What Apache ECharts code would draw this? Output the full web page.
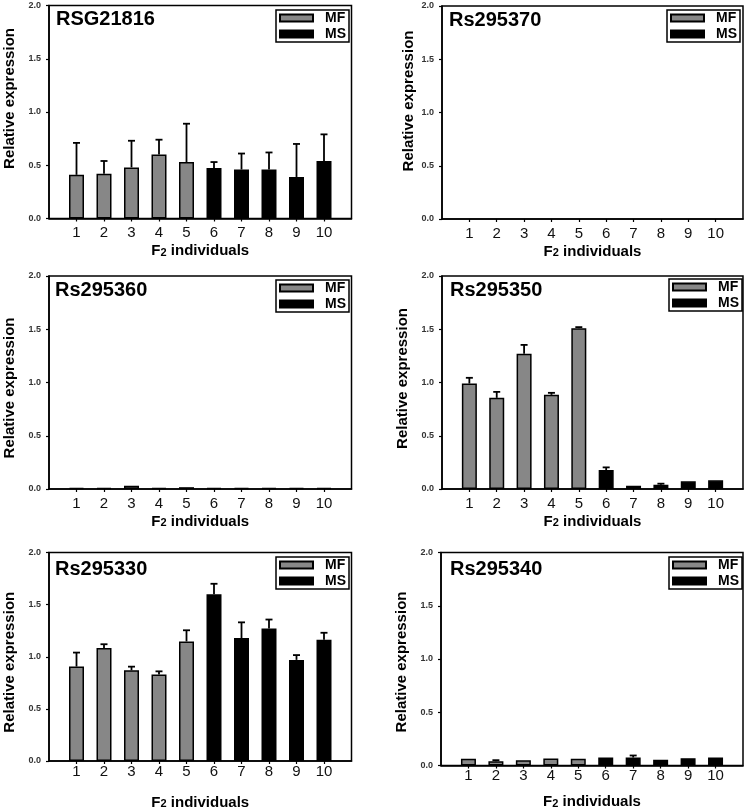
<!DOCTYPE html>
<html>
<head>
<meta charset="utf-8">
<script src="https://cdn.jsdelivr.net/npm/echarts@6/dist/echarts.min.js"></script>
<style>
  html, body { margin: 0; padding: 0; background: #fff; }
  #chart { width: 746px; height: 811px; }
</style>
</head>
<body>
<div id="chart"></div>
<script>
// F2 individuals, 1-5 = MF, 6-10 = MS
var individuals = [1, 2, 3, 4, 5, 6, 7, 8, 9, 10];
var genes = ['RSG21816', 'Rs295370', 'Rs295360', 'Rs295350', 'Rs295330', 'Rs295340'];

// mean relative expression and upper error (SD) per gene
var rsg21816Mean = [0.41, 0.42, 0.48, 0.60, 0.53, 0.475, 0.46, 0.46, 0.39, 0.54];
var rsg21816Sd   = [0.30, 0.12, 0.25, 0.14, 0.36, 0.055, 0.15, 0.16, 0.31, 0.25];
var rs295370Mean = [null, null, null, null, null, null, null, null, null, null];
var rs295370Sd   = [null, null, null, null, null, null, null, null, null, null];
var rs295360Mean = [0.005, 0.008, 0.03, 0.007, 0.017, 0.004, 0.007, 0.007, 0.007, 0.008];
var rs295360Sd   = [0, 0.001, 0.006, 0, 0.003, 0, 0, 0, 0, 0];
var rs295350Mean = [0.99, 0.856, 1.27, 0.884, 1.51, 0.178, 0.031, 0.04, 0.072, 0.081];
var rs295350Sd   = [0.054, 0.056, 0.083, 0.019, 0.01, 0.025, 0.006, 0.01, 0.002, 0.002];
var rs295330Mean = [0.906, 1.085, 0.87, 0.83, 1.147, 1.60, 1.18, 1.27, 0.97, 1.163];
var rs295330Sd   = [0.134, 0.035, 0.035, 0.03, 0.107, 0.10, 0.15, 0.087, 0.046, 0.067];
var rs295340Mean = [0.0625, 0.041, 0.05, 0.066, 0.0625, 0.075, 0.075, 0.053, 0.069, 0.075];
var rs295340Sd   = [0.001, 0.009, 0.006, 0.006, 0.001, 0.006, 0.019, 0.006, 0.003, 0.006];

var means = [rsg21816Mean, rs295370Mean, rs295360Mean, rs295350Mean, rs295330Mean, rs295340Mean];
var sds = [rsg21816Sd, rs295370Sd, rs295360Sd, rs295350Sd, rs295330Sd, rs295340Sd];

var FONT = '"Liberation Sans", Arial, sans-serif';
var GRAY = '#878787';

// layout of each panel (pixels)
var boxes = [
  { left: 49,  top: 5.5, width: 302.5, height: 213, title: [56, 9],   legend: [276, 10],  xGap: 25, lblMargin: 7, yGap: 32, yPad: [0, 0, 0, 27] },
  { left: 442, top: 6,   width: 301,   height: 213, title: [449, 10], legend: [667, 10],  xGap: 25, lblMargin: 7, yGap: 26, yPad: [0, 0, 0, 23] },
  { left: 49,  top: 276, width: 302.5, height: 213, title: [55, 280], legend: [276, 280], xGap: 25, lblMargin: 7, yGap: 32, yPad: [0, 11, 0, 0] },
  { left: 442, top: 276, width: 301,   height: 213, title: [450, 280],legend: [669, 279], xGap: 25, lblMargin: 7, yGap: 32, yPad: [0, 0, 0, 8] },
  { left: 49,  top: 552.5, width: 302.5, height: 213, title: [55, 559], legend: [276, 557], xGap: 34, lblMargin: 3, yGap: 32, yPad: [0, 11, 0, 0] },
  { left: 441, top: 552.5, width: 302,   height: 213, title: [450, 559], legend: [669, 557], xGap: 29, lblMargin: 3, yGap: 32, yPad: [0, 6, 0, 0] }
];

function errRender(params, api) {
  var x = api.value(0), m = api.value(1), t = api.value(2);
  var p0 = api.coord([x, m]);
  var p1 = api.coord([x, t]);
  if (p0[1] - p1[1] < 0.8) return null;
  var st = { stroke: '#000', lineWidth: 1.8 };
  return {
    type: 'group',
    children: [
      { type: 'line', shape: { x1: p0[0], y1: p0[1], x2: p1[0], y2: p1[1] }, style: st },
      { type: 'line', shape: { x1: p1[0] - 3.5, y1: p1[1], x2: p1[0] + 3.5, y2: p1[1] }, style: st }
    ]
  };
}

var option = {
  backgroundColor: '#fff',
  animation: false,
  textStyle: { fontFamily: FONT },
  title: [], legend: [], grid: [], xAxis: [], yAxis: [], series: []
};

genes.forEach(function (g, k) {
  var b = boxes[k];
  var mean = means[k], sd = sds[k];
  option.title.push({
    text: g, left: b.title[0], top: b.title[1], padding: 0,
    textStyle: { fontFamily: FONT, fontSize: 20, fontWeight: 'bold', color: '#000' }
  });
  option.legend.push({
    data: ['MF', 'MS'], orient: 'vertical',
    left: b.legend[0], top: b.legend[1],
    padding: [1, 3, 1, 3], itemGap: 2, itemWidth: 33, itemHeight: 7,
    borderColor: '#000', borderWidth: 1.5, icon: 'rect',
    selectedMode: false,
    textStyle: { fontFamily: FONT, fontSize: 14, fontWeight: 'bold', color: '#000', lineHeight: 14, padding: [0, 0, 0, 7] }
  });
  option.grid.push({
    left: b.left, top: b.top, width: b.width, height: b.height,
    show: true, borderColor: '#000', borderWidth: 1.5, backgroundColor: 'transparent'
  });
  option.xAxis.push({
    type: 'value', gridIndex: k, min: 0, max: 11,
    name: 'F{s|2} individuals', nameLocation: 'middle', nameGap: b.xGap,
    nameTextStyle: { fontFamily: FONT, fontSize: 15, fontWeight: 'bold', color: '#000',
      rich: { s: { fontFamily: FONT, fontSize: 11, fontWeight: 'bold', color: '#000', padding: [3, 0, 0, 0] } } },
    axisLine: { show: true, onZero: false, lineStyle: { color: '#000', width: 1.5 } },
    axisTick: { show: true, length: 3, customValues: individuals, lineStyle: { color: '#000', width: 1.2 } },
    axisLabel: { customValues: individuals, margin: b.lblMargin, fontFamily: FONT, fontSize: 15, color: '#111' },
    splitLine: { show: false }
  });
  option.yAxis.push({
    type: 'value', gridIndex: k, min: 0, max: 2, interval: 0.5,
    name: 'Relative expression', nameLocation: 'middle', nameGap: b.yGap, nameRotate: 90,
    nameTextStyle: { fontFamily: FONT, fontSize: 15, fontWeight: 'bold', color: '#000', padding: b.yPad },
    axisLine: { show: true, lineStyle: { color: '#000', width: 1.5 } },
    axisTick: { show: true, length: 3, lineStyle: { color: '#000', width: 1.2 } },
    axisLabel: { margin: 8, fontFamily: FONT, fontSize: 9, fontWeight: 'bold', color: '#333',
      formatter: function (v) { return v.toFixed(1); } },
    splitLine: { show: false }
  });
  var mf = [], ms = [], err = [];
  individuals.forEach(function (ind, i) {
    var pt = [ind, mean[i]];
    if (i < 5) mf.push(pt); else ms.push(pt);
    if (mean[i] != null) err.push([ind, mean[i], mean[i] + sd[i]]);
  });
  option.series.push({
    name: 'MF', type: 'bar', xAxisIndex: k, yAxisIndex: k, data: mf,
    barWidth: 15, barGap: '-100%', barMinHeight: 1,
    itemStyle: { color: GRAY, borderColor: '#000', borderWidth: 1.5 }
  });
  option.series.push({
    name: 'MS', type: 'bar', xAxisIndex: k, yAxisIndex: k, data: ms,
    barWidth: 15, barGap: '-100%', barMinHeight: 1,
    itemStyle: { color: '#000', borderColor: '#000', borderWidth: 1.5 }
  });
  option.series.push({
    type: 'custom', xAxisIndex: k, yAxisIndex: k, data: err, z: 5,
    renderItem: errRender, silent: true
  });
});

var chart = echarts.init(document.getElementById('chart'));
chart.setOption(option);
</script>
</body>
</html>
